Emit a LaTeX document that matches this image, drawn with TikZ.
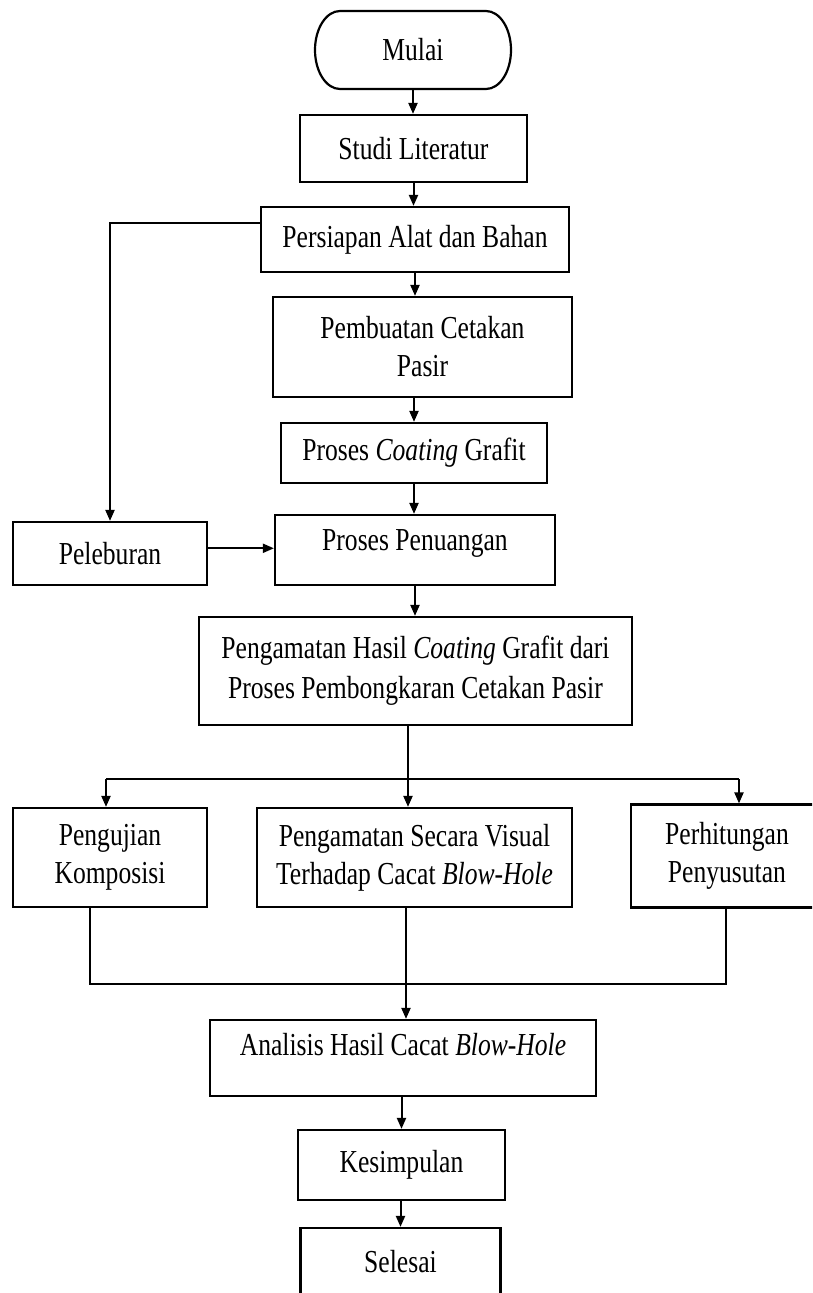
\documentclass[tikz,border=0pt]{standalone}
\usepackage{fontspec}
\setmainfont[FakeStretch=0.8]{Liberation Serif}
\usetikzlibrary{arrows.meta,calc}
\tikzset{
  box/.style={draw, line width=2.2pt, inner sep=0pt, align=center,
    font=\fontsize{32}{38}\selectfont},
  conn/.style={line width=2pt},
  arr/.style={conn, -{Triangle[length=11pt,width=9pt]}},
}
\begin{document}
\begin{tikzpicture}[x=1pt,y=-1pt]
\clip (0,0) rectangle (812,1293);
\fill[white] (0,0) rectangle (812,1293);

% terminal
\node[box, draw=none, minimum width=196pt, minimum height=78pt] (mulai) at (413,50) {Mulai};
\draw[line width=2.2pt] (340,11) -- (486,11)
  arc[start angle=90,end angle=-90,x radius=25pt,y radius=39pt]
  -- (340,89)
  arc[start angle=270,end angle=90,x radius=25pt,y radius=39pt] -- cycle;

\node[box, minimum width=227pt, minimum height=67pt] (studi) at (413.5,148.5) {Studi Literatur};
\node[box, minimum width=308pt, minimum height=65pt] (persiapan) at (415,239.5) {Persiapan Alat dan Bahan};
\node[box, minimum width=299pt, minimum height=100pt] (pembuatan) at (422.5,347) {Pembuatan Cetakan\\Pasir};
\node[box, minimum width=266pt, minimum height=60pt] (coating) at (414,453) {Proses \textit{Coating} Grafit};
\node[box, minimum width=194pt, minimum height=63pt] (peleburan) at (110,553.5) {Peleburan};
\node[box, minimum width=280pt, minimum height=70pt, text height=22pt, text depth=21pt] (penuangan) at (415,550) {Proses Penuangan};
\node[box, minimum width=433pt, minimum height=108pt, font=\fontsize{32}{40}\selectfont] (hasil) at (415.5,671) {Pengamatan Hasil \textit{Coating} Grafit dari\\Proses Pembongkaran Cetakan Pasir};
\node[box, minimum width=194pt, minimum height=99pt] (pengujian) at (110,857.5) {Pengujian\\Komposisi};
\node[box, minimum width=315pt, minimum height=99pt] (visual) at (414.5,857.5) {Pengamatan Secara Visual\\Terhadap Cacat \textit{Blow-Hole}};
\node[box, minimum width=192pt, minimum height=103pt] (perhitungan) at (727,856) {Perhitungan\\Penyusutan};
\node[box, minimum width=386pt, minimum height=76pt, text height=22pt, text depth=28pt] (analisis) at (403,1058) {Analisis Hasil Cacat \textit{Blow-Hole}};
\node[box, minimum width=207pt, minimum height=70pt] (kesimpulan) at (401.5,1165) {Kesimpulan};
\node[box, minimum width=200pt, minimum height=68pt] (selesai) at (400.5,1262) {Selesai};

% main flow
\draw[arr] (mulai.south) -- (mulai.south |- studi.north);
\draw[arr] (studi.south) -- (studi.south |- persiapan.north);
\draw[arr] (persiapan.south) -- (persiapan.south |- pembuatan.north);
\draw[arr] (coating.north |- pembuatan.south) -- (coating.north);
\draw[arr] (coating.south) -- (coating.south |- penuangan.north);
\draw[arr] (penuangan.south) -- (penuangan.south |- hasil.north);

% melting branch
\draw[arr] ($(persiapan.north west)!0.25!(persiapan.south west)$) -| (peleburan.north);
\coordinate (pe) at ($(peleburan.north east)!0.42!(peleburan.south east)$);
\draw[arr] (pe) -- (pe -| penuangan.west);

% split into three
\coordinate (br) at (408,779);
\coordinate (bl) at (106,779);
\coordinate (brr) at (739,779);
\draw[conn] (br |- hasil.south) -- (br);
\draw[conn] (bl) -- (brr);
\draw[arr] (bl) -- (bl |- pengujian.north);
\draw[arr] (br) -- (br |- visual.north);
\draw[arr] (brr) -- (brr |- perhitungan.north);

% join
\coordinate (jl) at (90,984);
\coordinate (jm) at (406,984);
\coordinate (jr) at (726,984);
\draw[conn] (jl |- pengujian.south) -- (jl) -- (jr) -- (jr |- perhitungan.south);
\draw[conn] (jm |- visual.south) -- (jm);
\draw[arr] (jm) -- (jm |- analisis.north);

\draw[arr] (kesimpulan.north |- analisis.south) -- (kesimpulan.north);
\draw[arr] (selesai.north |- kesimpulan.south) -- (selesai.north);
\end{tikzpicture}
\end{document}
